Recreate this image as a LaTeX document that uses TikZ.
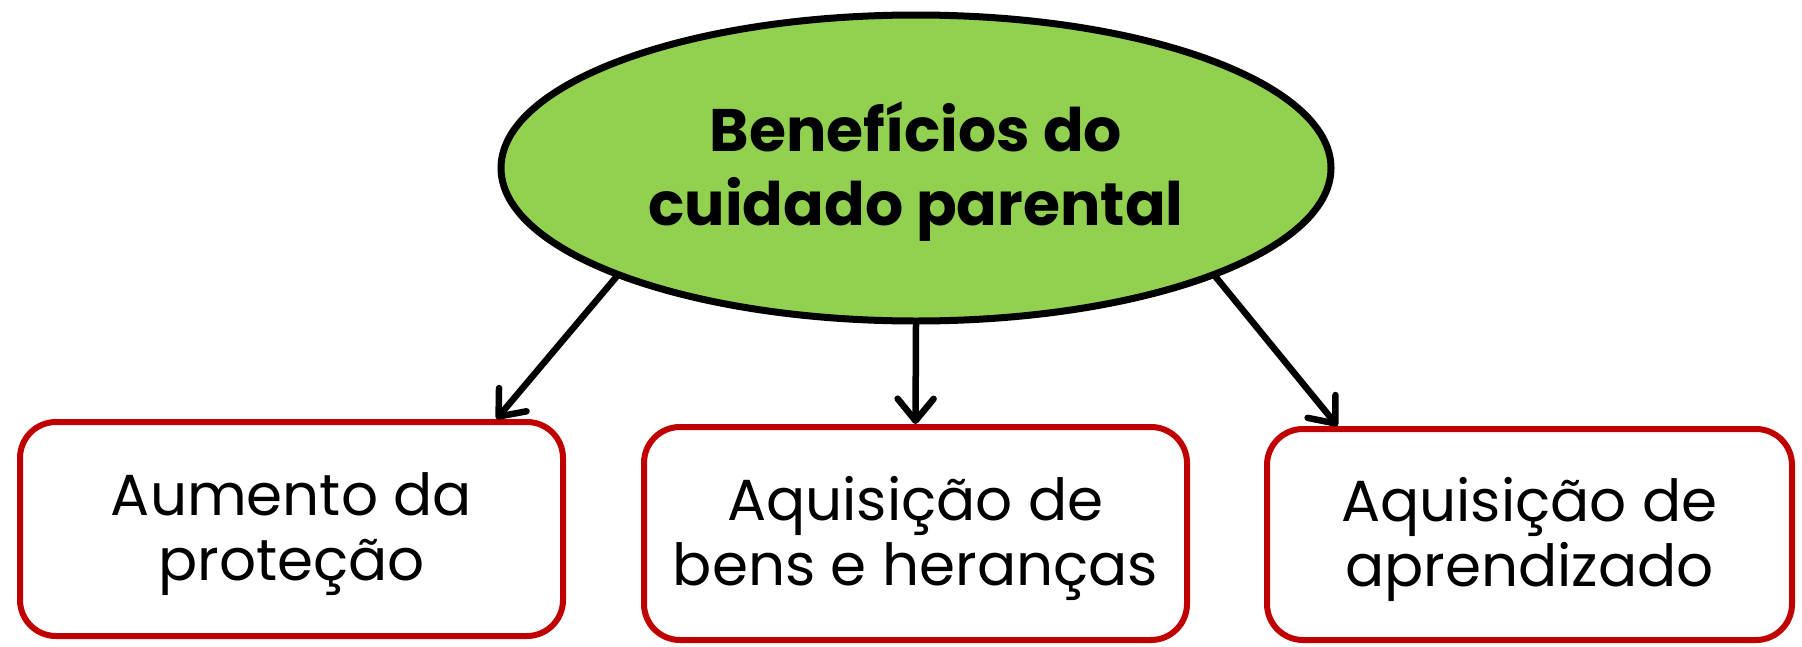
\documentclass[tikz,border=0pt]{standalone}
\usepackage{fontspec}
\setmainfont{Poppins}
\usetikzlibrary{shapes.geometric,arrows.meta}
\definecolor{titlegreen}{HTML}{92D050}
\definecolor{boxred}{HTML}{C00000}
\newcommand{\twolines}[3]{\raisebox{#1}[\height][\depth]{\begin{tabular}{@{}c@{}}#2\\#3\end{tabular}}}
\begin{document}
\begin{tikzpicture}[x=1pt,y=-1pt,
  titleshape/.style={ellipse, draw=black, line width=7pt, fill=titlegreen,
    minimum width=830pt, minimum height=306pt, inner sep=0pt,
    font=\bfseries\fontsize{60}{74}\selectfont},
  itembox/.style={draw=boxred, line width=6pt, rounded corners=36pt, fill=white,
    inner sep=0pt, font=\fontsize{58}{65}\selectfont},
  link/.style={line width=6.5pt, line cap=round,
    -{Straight Barb[length=22pt,width=36pt,line width=6.5pt,line join=round,line cap=round]}}]
\useasboundingbox (0,0) rectangle (1802,646);
\node[titleshape] (e) at (916,168) {\twolines{-6pt}{Benefícios do}{cuidado parental}};
\node[itembox, minimum width=543pt, minimum height=214pt] (b1) at (291.5,529) {\twolines{-6pt}{Aumento da}{proteção}};
\node[itembox, minimum width=543pt, minimum height=213pt] (b2) at (915.5,533.5) {\twolines{-6pt}{Aquisição de}{bens e heranças}};
\node[itembox, minimum width=525pt, minimum height=211pt] (b3) at (1529.5,534.5) {\twolines{-6pt}{Aquisição de}{aprendizado}};
\draw[link] (e.200.7) -- ([xshift=205pt]b1.north);
\draw[link] (e.south) -- (b2.north);
\draw[link] (e.340) -- ([xshift=-192pt]b3.north);
\end{tikzpicture}
\end{document}
